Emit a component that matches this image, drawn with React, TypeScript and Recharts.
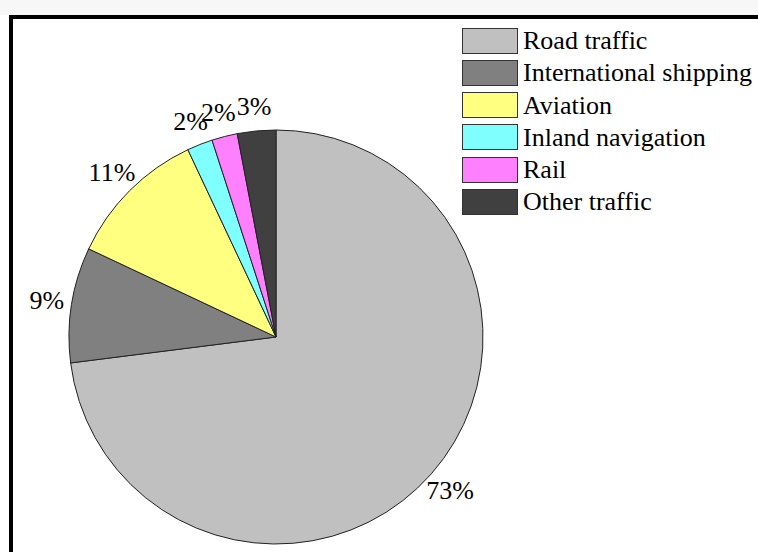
import React from 'react';
import { PieChart, Pie, Cell, Legend } from 'recharts';

const categories = ['Road traffic', 'International shipping', 'Aviation', 'Inland navigation', 'Rail', 'Other traffic'];
const shares = [73, 9, 11, 2, 2, 3];
const colors = ['#C0C0C0', '#808080', '#FFFF80', '#80FFFF', '#FF80FF', '#404040'];

const data = categories.map((name, i) => ({ name, value: shares[i] }));

const FONT = '"Liberation Serif", "Times New Roman", serif';
const RADIAN = Math.PI / 180;

const renderLabel = (props: any) => {
  const { cx, cy, midAngle, outerRadius, value, index } = props;
  const r = outerRadius + 25;
  const x = cx + r * Math.cos(-midAngle * RADIAN);
  const y = cy + r * Math.sin(-midAngle * RADIAN);
  return (
    <text
      key={`lbl-${index}`}
      x={x}
      y={y}
      textAnchor="middle"
      dominantBaseline="central"
      fill="#000"
      style={{ fontFamily: FONT, fontSize: 26 }}
    >
      {`${value}%`}
    </text>
  );
};

const LegendContent = (props: any) => {
  const payload: any[] = props.payload || [];
  const items = categories.map((name, i) => {
    const p = payload.find((q: any) => q.value === name);
    return { value: name, color: (p && p.color) || colors[i] };
  });
  return (
    <div style={{ fontFamily: FONT, fontSize: 26, color: '#000' }}>
      {items.map((p, i) => (
        <div key={i} style={{ display: 'flex', alignItems: 'center', height: 27, marginBottom: 5.3 }}>
          <div
            style={{
              width: 54,
              height: 24,
              background: p.color,
              border: '1.5px solid #333',
              marginRight: 5,
              flex: 'none',
            }}
          />
          <span style={{ lineHeight: '27px', whiteSpace: 'nowrap' }}>{p.value}</span>
        </div>
      ))}
    </div>
  );
};

export default function App() {
  return (
    <div style={{ position: 'absolute', left: 0, top: 0, width: 758, height: 552, overflow: 'hidden', background: '#fff' }}>
      <div style={{ position: 'absolute', left: 0, top: 0, width: 758, height: 15, background: '#f7f7f7' }} />
      <div
        style={{
          position: 'absolute',
          left: 9,
          top: 15,
          width: 900,
          height: 700,
          borderLeft: '4px solid #000',
          borderTop: '4px solid #000',
          background: '#fff',
        }}
      />
      <div style={{ position: 'absolute', left: 0, top: 0 }}>
        <PieChart width={758} height={552} margin={{ top: 0, right: 0, bottom: 0, left: 0 }}>
          <Pie
            data={data}
            dataKey="value"
            nameKey="name"
            cx={276}
            cy={337}
            outerRadius={207}
            startAngle={90}
            endAngle={-270}
            isAnimationActive={false}
            label={renderLabel}
            labelLine={false}
            stroke="#222"
            strokeWidth={1}
          >
            {data.map((d, i) => (
              <Cell key={d.name} fill={colors[i]} stroke="#222" strokeWidth={1} />
            ))}
          </Pie>
          <Legend
            layout="vertical"
            align="right"
            verticalAlign="top"
            itemSorter={null as any}
            content={<LegendContent />}
            wrapperStyle={{ left: 462, top: 27, right: 'auto', width: 296 }}
          />
        </PieChart>
      </div>
    </div>
  );
}
